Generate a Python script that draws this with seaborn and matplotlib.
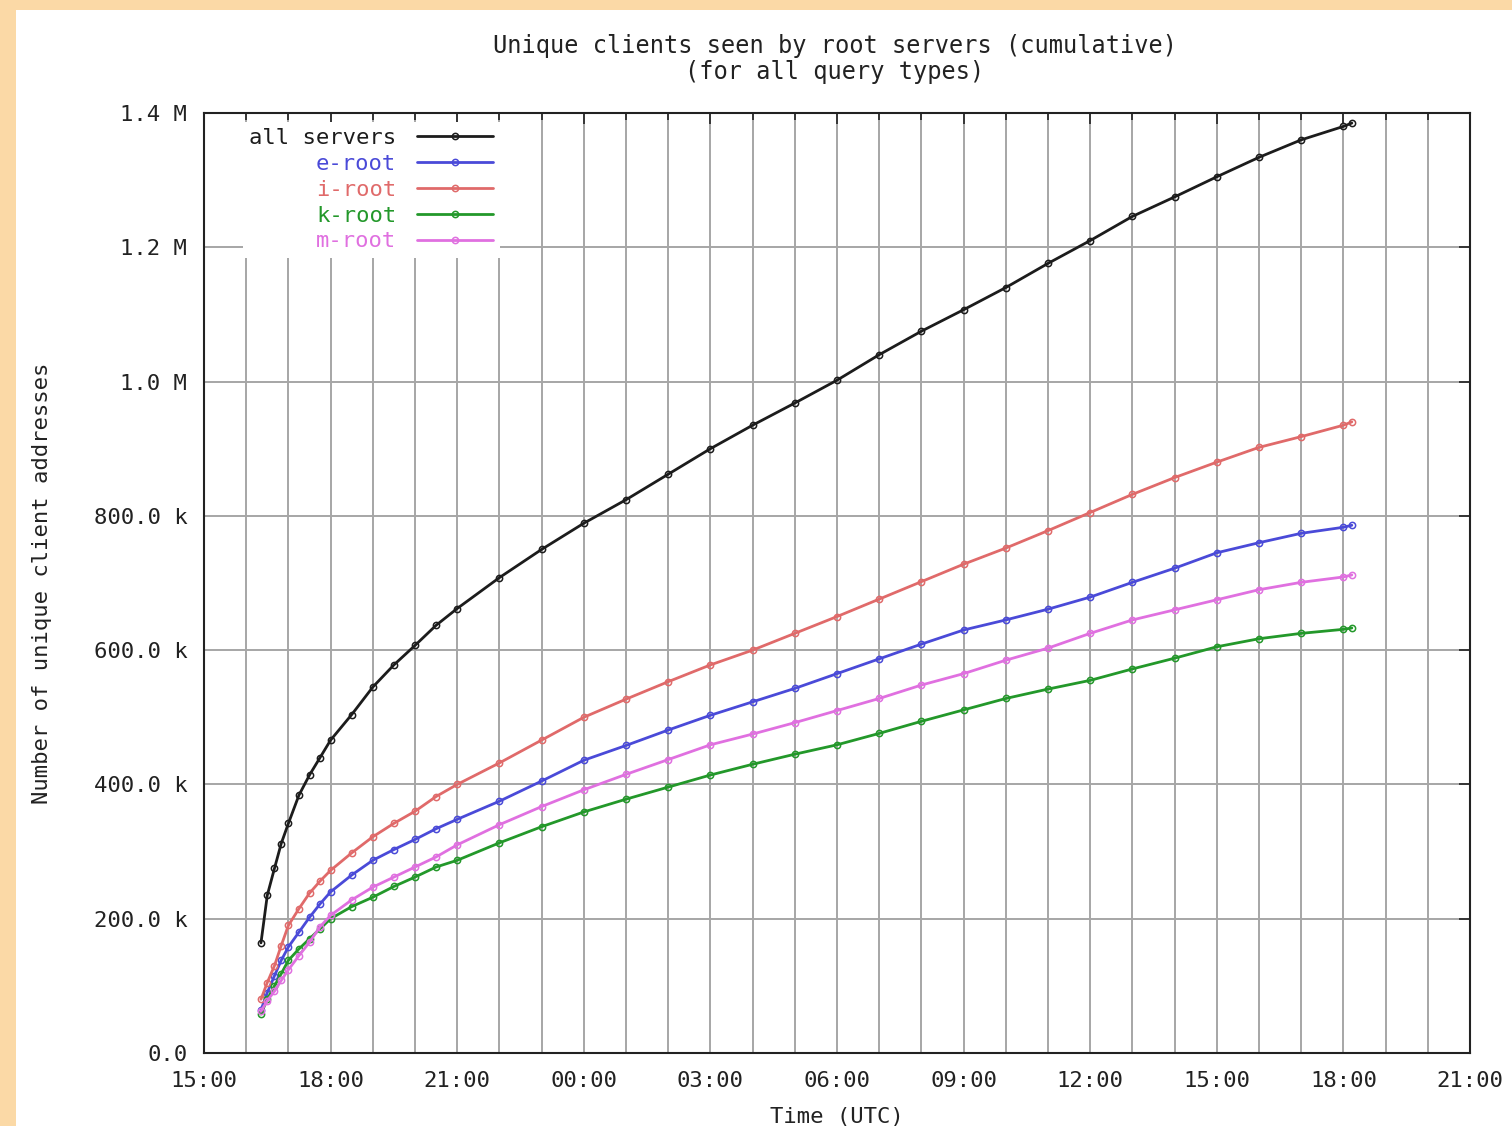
import numpy as np
import pandas as pd
import matplotlib
matplotlib.use("Agg")
import matplotlib.pyplot as plt
import seaborn as sns
from matplotlib.patches import Rectangle
from matplotlib.ticker import FixedLocator, MultipleLocator

# hours after 15:00 UTC on day 1
hours = [1.35, 1.5, 1.67, 1.83, 2.0, 2.25, 2.5, 2.75, 3.0, 3.5, 4.0, 4.5, 5.0, 5.5,
         6, 7, 8, 9, 10, 11, 12, 13, 14, 15, 16, 17, 18, 19, 20, 21, 22, 23, 24,
         25, 26, 27, 27.2]

# cumulative unique clients, thousands
all_servers = [164, 235, 275, 312, 342, 384, 414, 440, 466, 504, 545, 578, 607, 637,
               662, 708, 750, 789, 824, 862, 900, 935, 968, 1002, 1040, 1075, 1107,
               1140, 1176, 1210, 1246, 1275, 1305, 1334, 1360, 1380, 1385]
e_root = [64, 90, 115, 138, 158, 180, 202, 222, 240, 265, 287, 303, 318, 334,
          348, 375, 405, 436, 458, 481, 503, 523, 543, 565, 587, 609, 630,
          645, 661, 679, 701, 722, 745, 760, 774, 783, 786]
i_root = [80, 105, 130, 160, 190, 215, 238, 256, 272, 298, 322, 342, 360, 382,
          400, 432, 466, 500, 527, 553, 578, 600, 625, 650, 676, 702, 728,
          752, 778, 805, 832, 857, 880, 902, 918, 935, 940]
k_root = [58, 80, 100, 118, 138, 155, 170, 185, 200, 218, 232, 248, 262, 277,
          287, 313, 337, 359, 378, 396, 414, 430, 445, 459, 476, 494, 511,
          528, 542, 555, 572, 588, 605, 617, 625, 631, 633]
m_root = [62, 78, 92, 108, 124, 145, 165, 188, 205, 228, 247, 262, 277, 292,
          310, 340, 367, 392, 415, 437, 459, 475, 492, 510, 528, 548, 565,
          585, 603, 625, 645, 660, 675, 690, 701, 709, 712]

series_names = ["all servers", "e-root", "i-root", "k-root", "m-root"]
series_colors = ["#1c1c1c", "#4a4ad8", "#e06a6a", "#23982a", "#e070e0"]

x_ticks = [0, 3, 6, 9, 12, 15, 18, 21, 24, 27, 30]
x_tick_labels = ["15:00", "18:00", "21:00", "00:00", "03:00", "06:00",
                 "09:00", "12:00", "15:00", "18:00", "21:00"]
y_ticks = [0, 200, 400, 600, 800, 1000, 1200, 1400]
y_tick_labels = ["0.0", "200.0 k", "400.0 k", "600.0 k", "800.0 k",
                 "1.0 M", "1.2 M", "1.4 M"]

frames = []
for name, vals in zip(series_names, [all_servers, e_root, i_root, k_root, m_root]):
    frames.append(pd.DataFrame({"hour": hours, "clients": vals, "server": name}))
df = pd.concat(frames, ignore_index=True)

sns.set_theme(style="white")
plt.rcParams["font.family"] = ["DejaVu Sans Mono", "DejaVu Sans"]
FS = 16

W, H = 1512, 1126
fig = plt.figure(figsize=(W / 100, H / 100), dpi=100)
fig.patch.set_facecolor("#fbd9a6")
fig.add_artist(Rectangle((16 / W, 0), 1, 1 - 10 / H, transform=fig.transFigure,
                         facecolor="white", edgecolor="none", zorder=-10))

ax = fig.add_axes([204 / W, 1 - 1053 / H, (1470 - 204) / W, (1053 - 113) / H])
ax.set_facecolor("white")

sns.lineplot(data=df, x="hour", y="clients", hue="server", hue_order=series_names,
             palette=series_colors, marker="o", markersize=4.5, lw=2.0,
             legend=False, ax=ax, zorder=3)
for line, c in zip(ax.get_lines(), series_colors):
    line.set_markeredgecolor(c)
    line.set_markerfacecolor("none")
    line.set_markeredgewidth(1.1)

ax.set_xlim(0, 30)
ax.set_ylim(0, 1400)
ax.xaxis.set_major_locator(FixedLocator(x_ticks))
ax.set_xticklabels(x_tick_labels)
ax.xaxis.set_minor_locator(MultipleLocator(1))
ax.yaxis.set_major_locator(FixedLocator(y_ticks))
ax.set_yticklabels(y_tick_labels)

ax.grid(True, which="both", axis="x", color="#a6a6a6", lw=1.4)
ax.grid(True, which="major", axis="y", color="#a6a6a6", lw=1.4)
ax.tick_params(axis="both", which="both", direction="in", top=True, right=True,
               colors="#222222", labelsize=FS, width=1.2)
ax.tick_params(axis="both", which="major", length=8)
ax.tick_params(axis="x", which="minor", length=5)
ax.tick_params(axis="x", which="major", pad=13)
ax.tick_params(axis="y", which="major", pad=12)
for sp in ax.spines.values():
    sp.set_color("#222222")
    sp.set_linewidth(1.5)

ax.set_xlabel("Time (UTC)", fontsize=FS, color="#222222")
ax.set_ylabel("Number of unique client addresses", fontsize=FS, color="#222222")
ax.xaxis.set_label_coords(0.5, (1053 - 1117) / 940)
ax.yaxis.set_label_coords((42 - 204) / 1266, 0.5)
ax.xaxis.label.set_va("center")
ax.yaxis.label.set_va("center")

fig.text(835 / W, 1 - 59 / H,
         "Unique clients seen by root servers (cumulative)\n(for all query types)",
         ha="center", va="center", fontsize=17, color="#222222", linespacing=1.12)

handles = ax.get_lines()[:len(series_names)]
leg = ax.legend(handles, series_names, loc="upper left",
                bbox_to_anchor=(33 / 1266, 1 - 3 / 940), markerfirst=False,
                fontsize=FS, handlelength=3.4, handletextpad=0.95,
                labelspacing=0.26, borderaxespad=0.25, borderpad=0.3,
                frameon=True, fancybox=False, framealpha=1.0)
leg.get_frame().set_edgecolor("none")
leg.get_frame().set_facecolor("white")
leg.set_zorder(5)
for t, c in zip(leg.get_texts(), series_colors):
    t.set_color(c)

fig.savefig("out.png", dpi=100, facecolor=fig.get_facecolor())
